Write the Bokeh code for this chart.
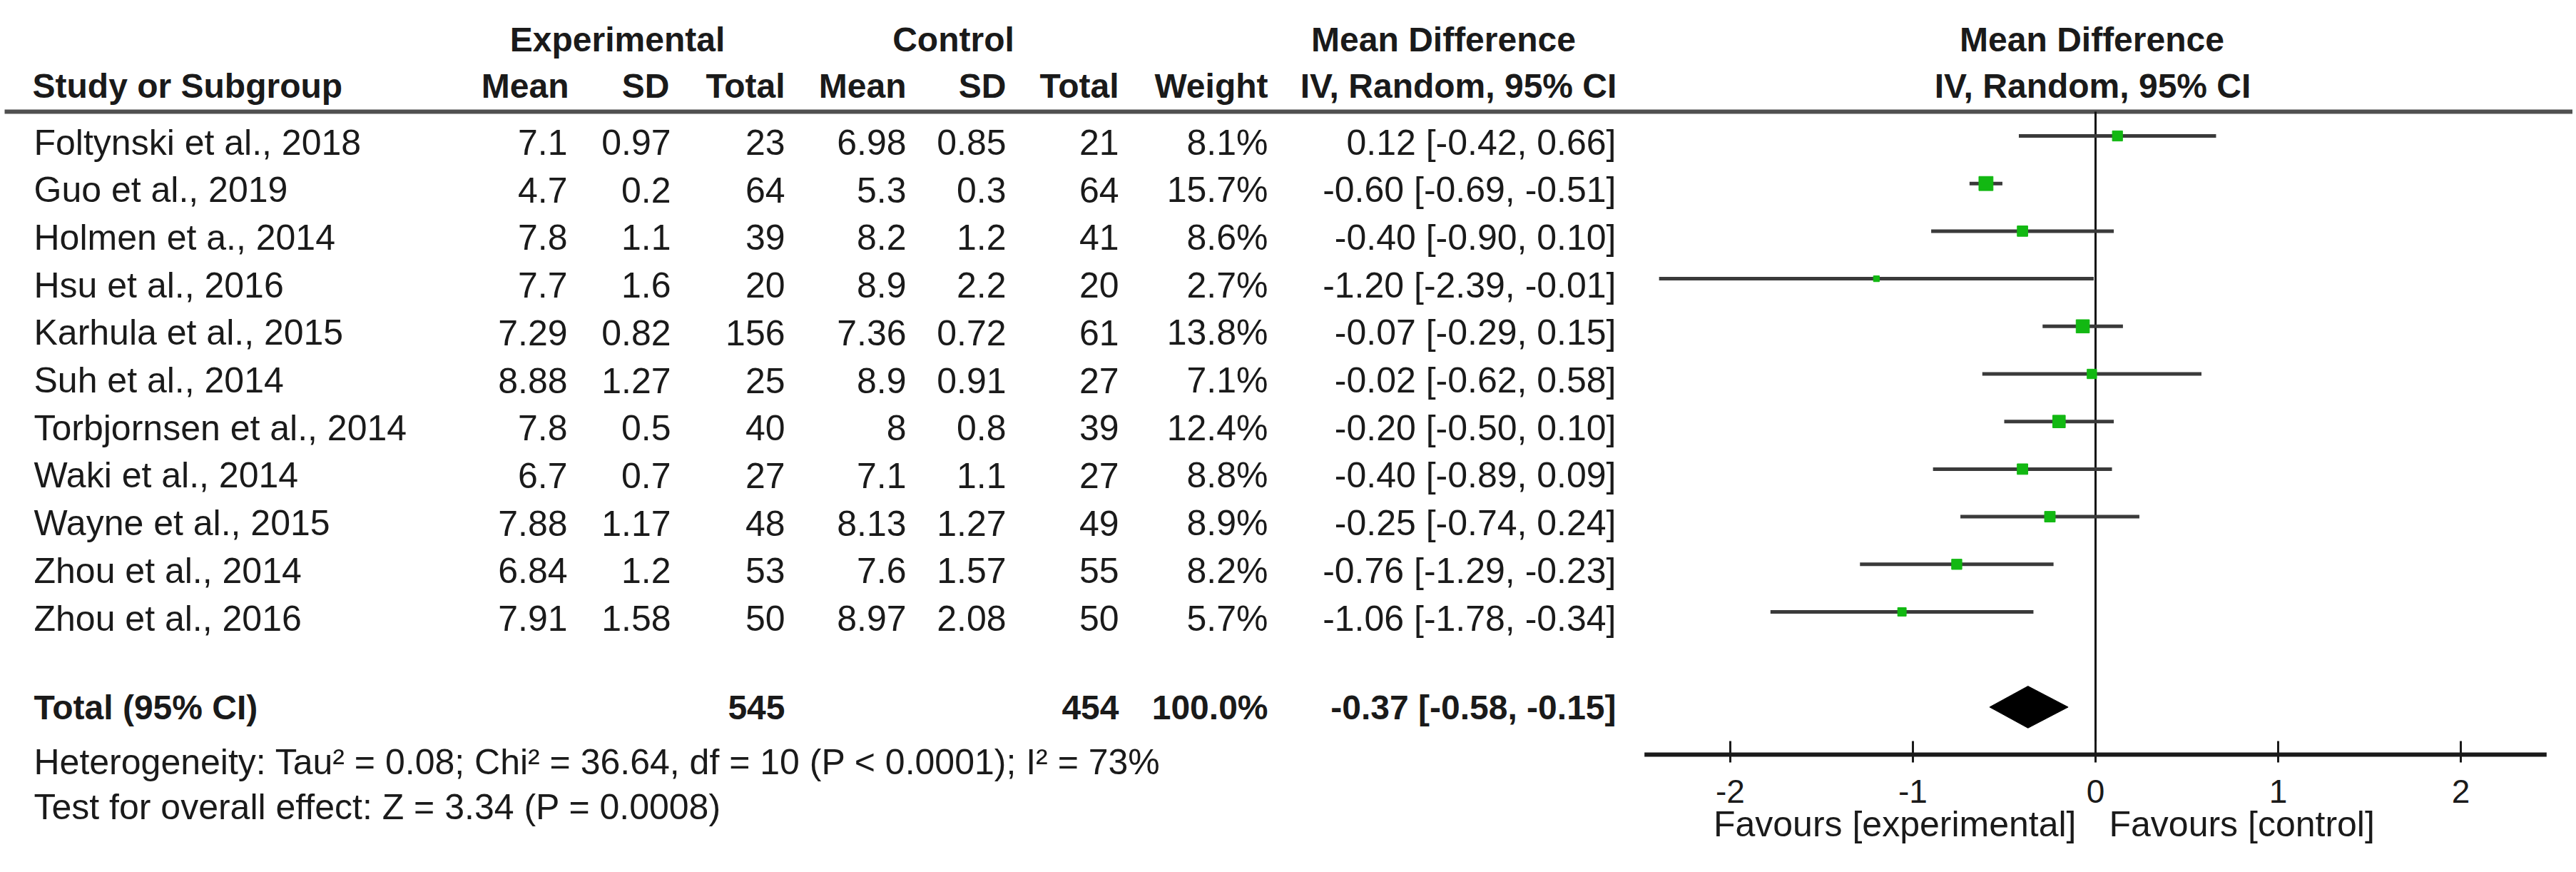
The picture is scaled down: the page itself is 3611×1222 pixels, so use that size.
import math
from bokeh.plotting import figure
from bokeh.models import Range1d
from bokeh.core.properties import value
from bokeh.embed import file_html
from bokeh.resources import INLINE

# ---------------- data ----------------
studies = ["Foltynski et al., 2018", "Guo et al., 2019", "Holmen et a., 2014",
           "Hsu et al., 2016", "Karhula et al., 2015", "Suh et al., 2014",
           "Torbjornsen et al., 2014", "Waki et al., 2014", "Wayne et al., 2015",
           "Zhou et al., 2014", "Zhou et al., 2016"]
exp_mean = [7.1, 4.7, 7.8, 7.7, 7.29, 8.88, 7.8, 6.7, 7.88, 6.84, 7.91]
exp_sd = [0.97, 0.2, 1.1, 1.6, 0.82, 1.27, 0.5, 0.7, 1.17, 1.2, 1.58]
exp_n = [23, 64, 39, 20, 156, 25, 40, 27, 48, 53, 50]
ctl_mean = [6.98, 5.3, 8.2, 8.9, 7.36, 8.9, 8, 7.1, 8.13, 7.6, 8.97]
ctl_sd = [0.85, 0.3, 1.2, 2.2, 0.72, 0.91, 0.8, 1.1, 1.27, 1.57, 2.08]
ctl_n = [21, 64, 41, 20, 61, 27, 39, 27, 49, 55, 50]
weight = [8.1, 15.7, 8.6, 2.7, 13.8, 7.1, 12.4, 8.8, 8.9, 8.2, 5.7]
md = [0.12, -0.60, -0.40, -1.20, -0.07, -0.02, -0.20, -0.40, -0.25, -0.76, -1.06]
ci_lo = [-0.42, -0.69, -0.90, -2.39, -0.29, -0.62, -0.50, -0.89, -0.74, -1.29, -1.78]
ci_hi = [0.66, -0.51, 0.10, -0.01, 0.15, 0.58, 0.10, 0.09, 0.24, -0.23, -0.34]

total_label = "Total (95% CI)"
total_exp_n = 545
total_ctl_n = 454
total_weight = 100.0
total_md = -0.37
total_lo = -0.58
total_hi = -0.15

heterogeneity = "Heterogeneity: Tau\u00b2 = 0.08; Chi\u00b2 = 36.64, df = 10 (P < 0.0001); I\u00b2 = 73%"
overall_test = "Test for overall effect: Z = 3.34 (P = 0.0008)"
ticks = [-2, -1, 0, 1, 2]
tick_labels = ["-2", "-1", "0", "1", "2"]
favours_left = "Favours [experimental]"
favours_right = "Favours [control]"

# ---------------- layout ----------------
W, H = 3606, 1218
FONT = value("Liberation Sans")
TXT = "#1a1a1a"
GREEN = "#12b812"
LINE = "#3a3a3a"
ZERO_PX, PX_PER_UNIT = 2937.0, 256.0
ROW0_PX, ROW_PX = 190.0, 66.7
AXIS_Y = 1057
HEADER_LINE_Y = 156
BASE_FIX = 0.36  # em; compensates the renderer's baseline placement

p = figure(width=W, height=H, output_backend="svg", toolbar_location=None,
           x_range=Range1d(0, W), y_range=Range1d(H, 0),
           min_border=0, x_axis_location=None, y_axis_location=None,
           outline_line_color=None, background_fill_color="white")
p.grid.visible = False
p.extra_x_ranges = {"md": Range1d((0 - ZERO_PX) / PX_PER_UNIT, (W - ZERO_PX) / PX_PER_UNIT)}
p.extra_y_ranges = {"row": Range1d((H - ROW0_PX) / ROW_PX, (0 - ROW0_PX) / ROW_PX)}


def txt(x, y, s, align="left", bold=False, size=50, xr="default", yr="default",
        yoff=0, xoff=0):
    p.text(x=x, y=y, text=s, text_align=align, text_baseline="alphabetic",
           text_font=FONT, text_font_size=value(f"{size}px"),
           text_font_style="bold" if bold else "normal", text_color=TXT,
           x_offset=xoff, y_offset=yoff - BASE_FIX * size,
           x_range_name=xr, y_range_name=yr)


def fmt(v):
    return f"{v:g}"


rows = list(range(len(studies)))
total_row = len(studies) + 1

# header
H1, H2 = 72, 137
txt([865], [H1], ["Experimental"], "center", True, 48)
txt([1336], [H1], ["Control"], "center", True, 48)
txt([2023], [H1], ["Mean Difference"], "center", True, 48)
txt([0], [H1], ["Mean Difference"], "center", True, 48, xr="md", xoff=-5)
txt([45], [H2], ["Study or Subgroup"], "left", True, 48)
hdr_x = [797, 938, 1100, 1270, 1410, 1568, 1777]
hdr_t = ["Mean", "SD", "Total", "Mean", "SD", "Total", "Weight"]
txt(hdr_x, [H2] * len(hdr_x), hdr_t, "right", True, 48)
txt([2044], [H2], ["IV, Random, 95% CI"], "center", True, 48)
txt([0], [H2], ["IV, Random, 95% CI"], "center", True, 48, xr="md", xoff=-4)

p.segment(x0=[6], y0=[HEADER_LINE_Y], x1=[W], y1=[HEADER_LINE_Y],
          line_width=6, line_color="#505050")

# study rows
OFF = 27
txt([47] * len(rows), rows, studies, "left", yr="row", yoff=OFF)
cols = [(795, [fmt(v) for v in exp_mean]),
        (940, [fmt(v) for v in exp_sd]),
        (1100, [str(v) for v in exp_n]),
        (1270, [fmt(v) for v in ctl_mean]),
        (1410, [fmt(v) for v in ctl_sd]),
        (1568, [str(v) for v in ctl_n]),
        (1777, [f"{w:.1f}%" for w in weight]),
        (2265, [f"{m:.2f} [{a:.2f}, {b:.2f}]" for m, a, b in zip(md, ci_lo, ci_hi)])]
for cx, vals in cols:
    txt([cx] * len(rows), rows, vals, "right", yr="row", yoff=OFF)

# total row
TOFF = 18
txt([47], [total_row], [total_label], "left", True, 48, yr="row", yoff=TOFF)
txt([1100, 1568, 1777, 2265], [total_row] * 4,
    [str(total_exp_n), str(total_ctl_n), f"{total_weight:.1f}%",
     f"{total_md:.2f} [{total_lo:.2f}, {total_hi:.2f}]"],
    "right", True, 48, yr="row", yoff=TOFF)

# footer text
txt([47], [1085], [heterogeneity], "left")
txt([47], [1148], [overall_test], "left")

# forest plot
p.segment(x0=[0], y0=[HEADER_LINE_Y], x1=[0], y1=[AXIS_Y], x_range_name="md",
          line_width=3, line_color="#111111")
p.segment(x0=ci_lo, y0=rows, x1=ci_hi, y1=rows, x_range_name="md", y_range_name="row",
          line_width=5, line_color=LINE)
p.scatter(x=md, y=rows, size=[5.0 * math.sqrt(w) for w in weight], marker="square",
          fill_color=GREEN, line_color=GREEN, x_range_name="md", y_range_name="row")
DH = 0.44
p.patch(x=[total_lo, total_md, total_hi, total_md],
        y=[total_row, total_row - DH, total_row, total_row + DH],
        x_range_name="md", y_range_name="row", fill_color="black", line_color="black")

# axis
p.segment(x0=[-2.47], y0=[AXIS_Y], x1=[2.47], y1=[AXIS_Y], x_range_name="md",
          line_width=6, line_color="#1a1a1a")
p.segment(x0=ticks, y0=[1038] * len(ticks), x1=ticks, y1=[1068] * len(ticks),
          x_range_name="md", line_width=3, line_color="#1a1a1a")
txt(ticks, [1125] * len(ticks), tick_labels, "center", size=46, xr="md")
txt([0], [1172], [favours_left], "right", xr="md", xoff=-27)
txt([0], [1172], [favours_right], "left", xr="md", xoff=19)

open("out.html", "w").write(file_html(p, INLINE))
